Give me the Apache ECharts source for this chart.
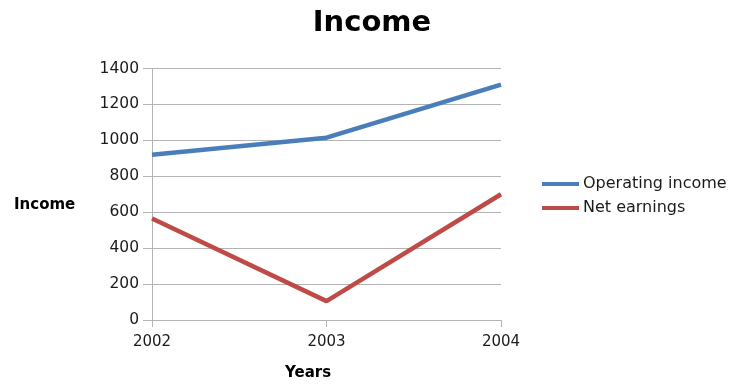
<!DOCTYPE html>
<html><head><meta charset="utf-8">
<script src="https://cdn.jsdelivr.net/npm/echarts@6/dist/echarts.min.js"></script>
<style>html,body{margin:0;padding:0;background:#fff}#c{width:736px;height:386px}</style>
</head><body><div id="c"></div>
<script>
const years = ['2002', '2003', '2004'];
const operatingIncome = [920, 1015, 1310];
const netEarnings = [565, 105, 700];
const yTicks = [0, 200, 400, 600, 800, 1000, 1200, 1400];

const chart = echarts.init(document.getElementById('c'));
const F = 'DejaVu Sans';
chart.setOption({
  animation: false,
  backgroundColor: '#fff',
  textStyle: { fontFamily: F },
  title: { text: 'Income', left: 367, top: 4, textAlign: 'center',
    textStyle: { fontFamily: F, fontSize: 29, fontWeight: 'bold', color: '#000' } },
  grid: { left: 152, right: 235, top: 68.5, bottom: 66 },
  legend: {
    orient: 'vertical', left: 537, top: 171, itemWidth: 37, itemHeight: 4, itemGap: 8,
    icon: 'rect',
    textStyle: { fontFamily: F, fontSize: 16, color: '#1a1a1a', padding: [0, 0, 0, -1] },
    data: ['Operating income', 'Net earnings']
  },
  graphic: [
    { type: 'text', left: 14, top: 198, style: { text: 'Income', font: 'bold 15px "DejaVu Sans"', fill: '#000' } },
    { type: 'text', left: 285, top: 366, style: { text: 'Years', font: 'bold 15px "DejaVu Sans"', fill: '#000' } }
  ],
  xAxis: {
    type: 'category', data: years, boundaryGap: false,
    axisLine: { lineStyle: { color: '#b3b3b3', width: 1 } },
    axisTick: { show: true, length: 7, lineStyle: { color: '#b3b3b3' } },
    axisLabel: { fontFamily: F, fontSize: 15, color: '#1a1a1a', margin: 15 },
    splitLine: { show: false }
  },
  yAxis: {
    type: 'value', min: 0, max: 1400, interval: 200,
    axisLine: { show: true, lineStyle: { color: '#b3b3b3', width: 1 } },
    axisTick: { show: true, length: 9, lineStyle: { color: '#b3b3b3' } },
    axisLabel: { fontFamily: F, fontSize: 15.5, color: '#1a1a1a', margin: 13,
      formatter: v => yTicks.includes(v) ? String(v) : '' },
    splitLine: { lineStyle: { color: '#b3b3b3', width: 1 } }
  },
  series: [
    { name: 'Operating income', type: 'line', data: operatingIncome, showSymbol: false, symbol: 'none',
      color: '#4a7ebb', lineStyle: { width: 4.5, color: '#4a7ebb' } },
    { name: 'Net earnings', type: 'line', data: netEarnings, showSymbol: false, symbol: 'none',
      color: '#be4b48', lineStyle: { width: 4.5, color: '#be4b48' } }
  ]
});
</script></body></html>
